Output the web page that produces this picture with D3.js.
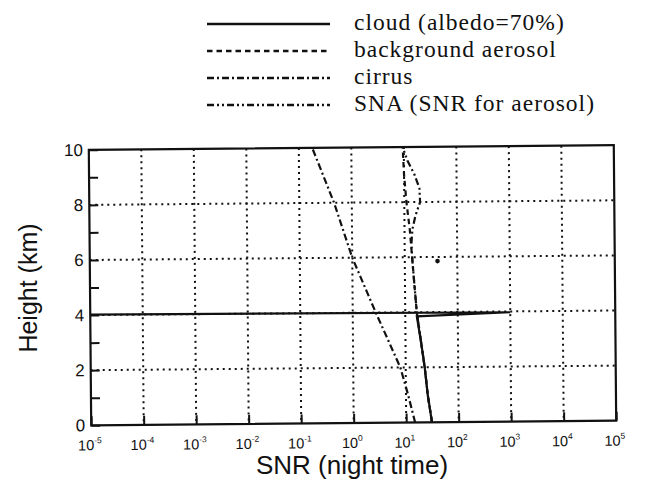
<!DOCTYPE html>
<html>
<head>
<meta charset="utf-8">
<script src="https://cdn.jsdelivr.net/npm/d3@7"></script>
<style>
  body { margin: 0; background: #fff; }
  svg { display: block; }
</style>
</head>
<body>
<div id="graphicContainer"></div>
<script>
// values (height in km, SNR linear)
var cloudHeight = [0, 1, 2, 3, 3.85, 3.97, 4.02]
var cloudSNR = [31, 26, 23, 19.5, 16.6, 1000, 1e-5]

var aerosolHeight = [0, 1, 2, 3, 4, 5, 6, 7, 8, 9, 10]
var aerosolSNR = [31, 26, 23, 19.5, 16.6, 15.1, 13.8, 12.6, 11, 10, 9.5]

var cirrusHeight = [0, 1, 2, 4, 6, 8, 10]
var cirrusSNR = [14.8, 11, 7.9, 2.75, 1.0, 0.46, 0.18]

var snaHeight = [0, 1, 2, 3, 4, 5, 6, 6.5, 7, 7.5, 8, 8.5, 9, 9.5, 10]
var snaSNR = [31, 26, 23, 19.5, 16.6, 15.1, 13.8, 13.5, 14.1, 16.2, 20, 19.5, 15.8, 11.7, 9.5]

var snaPoint = [{snr: 42, h: 5.85}]

var xTickExp = [-5, -4, -3, -2, -1, 0, 1, 2, 3, 4, 5]
var yTicks = [0, 2, 4, 6, 8, 10]
var yMinorTicks = [1, 3, 5, 7, 9]
var yGrid = [2, 4, 6, 8]

var legendLabels = ["cloud (albedo=70%)", "background aerosol", "cirrus", "SNA (SNR for aerosol)"]
var legendDash = [null, "5.5,4", "7,3,2,3", "7,3,2,3,2,3"]

var target = "#graphicContainer"
var width = 645, height = 482
var margin = {top: 147.5, right: 30, bottom: 59, left: 90}
var w = width - margin.left - margin.right
var h = height - margin.top - margin.bottom

var svg = d3.select(target).append("svg")
    .attr("width", width)
    .attr("height", height)

// legend
var legend = svg.append("g")
legendLabels.forEach(function(lab, i) {
    var yy = 24 + i * 27
    legend.append("line")
        .attr("x1", 207).attr("x2", 330)
        .attr("y1", yy).attr("y2", yy)
        .attr("stroke", "#111")
        .attr("stroke-width", 2.4)
        .attr("stroke-dasharray", legendDash[i])
    legend.append("text")
        .attr("x", 354).attr("y", yy + 6)
        .attr("font-family", "Liberation Serif, serif")
        .attr("font-size", 23.5)
        .attr("letter-spacing", 1)
        .attr("fill", "#111")
        .text(lab)
})

// the scan is slightly rotated
var plot = svg.append("g")
    .attr("transform", "rotate(-0.5," + (margin.left + w / 2) + "," + (margin.top + h / 2) + ") translate(" + margin.left + "," + margin.top + ")")

var x = d3.scaleLog().domain([1e-5, 1e5]).range([0, w])
var y = d3.scaleLinear().domain([0, 10]).range([h, 0])

// grid
plot.append("g").selectAll("line")
    .data(xTickExp.slice(1, -1))
    .enter().append("line")
    .attr("x1", d => x(Math.pow(10, d))).attr("x2", d => x(Math.pow(10, d)))
    .attr("y1", 0).attr("y2", h)
    .attr("stroke", "#111").attr("stroke-width", 2)
    .attr("stroke-dasharray", "2,4")

plot.append("g").selectAll("line")
    .data(yGrid)
    .enter().append("line")
    .attr("x1", 0).attr("x2", w)
    .attr("y1", d => y(d)).attr("y2", d => y(d))
    .attr("stroke", "#111").attr("stroke-width", 2)
    .attr("stroke-dasharray", "2,4")

// axes
var xAxis = d3.axisBottom(x)
    .tickValues(xTickExp.map(e => Math.pow(10, e)))
    .tickSizeInner(-9).tickSizeOuter(0)
    .tickFormat("")
var gx = plot.append("g").attr("transform", "translate(0," + h + ")").call(xAxis)

gx.selectAll(".tick").each(function(d, i) {
    var t = d3.select(this).append("text")
        .attr("y", 25)
        .attr("x", -2)
        .attr("fill", "#111")
        .attr("font-family", "Liberation Sans, Arial, sans-serif")
        .attr("font-size", 14.5)
        .attr("text-anchor", "middle")
    t.append("tspan").text("10")
    t.append("tspan").attr("dy", -7).attr("font-size", 8.5).text(xTickExp[i])
})

var yAxis = d3.axisLeft(y)
    .tickValues(yTicks.concat(yMinorTicks))
    .tickSizeInner(-9).tickSizeOuter(0)
    .tickFormat(d => yTicks.indexOf(d) >= 0 ? d : "")
var gy = plot.append("g").call(yAxis)
gy.selectAll("text")
    .attr("x", -6)
    .attr("font-family", "Liberation Sans, Arial, sans-serif")
    .attr("font-size", 17)
    .attr("fill", "#111")

plot.selectAll(".domain").remove()
plot.selectAll(".tick line").attr("stroke", "#111").attr("stroke-width", 2)

plot.append("rect")
    .attr("width", w).attr("height", h)
    .attr("fill", "none").attr("stroke", "#111").attr("stroke-width", 2.2)

// series
var line = d3.line()
    .x(d => x(d[0]))
    .y(d => y(d[1]))

var series = [
    {snr: cirrusSNR, h: cirrusHeight, dash: legendDash[2]},
    {snr: snaSNR, h: snaHeight, dash: legendDash[3]},
    {snr: aerosolSNR, h: aerosolHeight, dash: legendDash[1]},
    {snr: cloudSNR, h: cloudHeight, dash: null}
]

series.forEach(function(s) {
    plot.append("path")
        .datum(s.snr.map((v, i) => [v, s.h[i]]))
        .attr("fill", "none")
        .attr("stroke", "#111")
        .attr("stroke-width", 2.2)
        .attr("stroke-dasharray", s.dash)
        .attr("d", line)
})

plot.selectAll(".sna-dot")
    .data(snaPoint)
    .enter().append("circle")
    .attr("cx", d => x(d.snr)).attr("cy", d => y(d.h))
    .attr("r", 2.3).attr("fill", "#111")

// axis titles
svg.append("text")
    .attr("transform", "translate(37,288) rotate(-90)")
    .attr("text-anchor", "middle")
    .attr("font-family", "Liberation Sans, Arial, sans-serif")
    .attr("font-size", 25)
    .attr("fill", "#111")
    .text("Height (km)")

svg.append("text")
    .attr("x", 352).attr("y", 474)
    .attr("text-anchor", "middle")
    .attr("font-family", "Liberation Sans, Arial, sans-serif")
    .attr("font-size", 26)
    .attr("fill", "#111")
    .text("SNR (night time)")
</script>
</body>
</html>
